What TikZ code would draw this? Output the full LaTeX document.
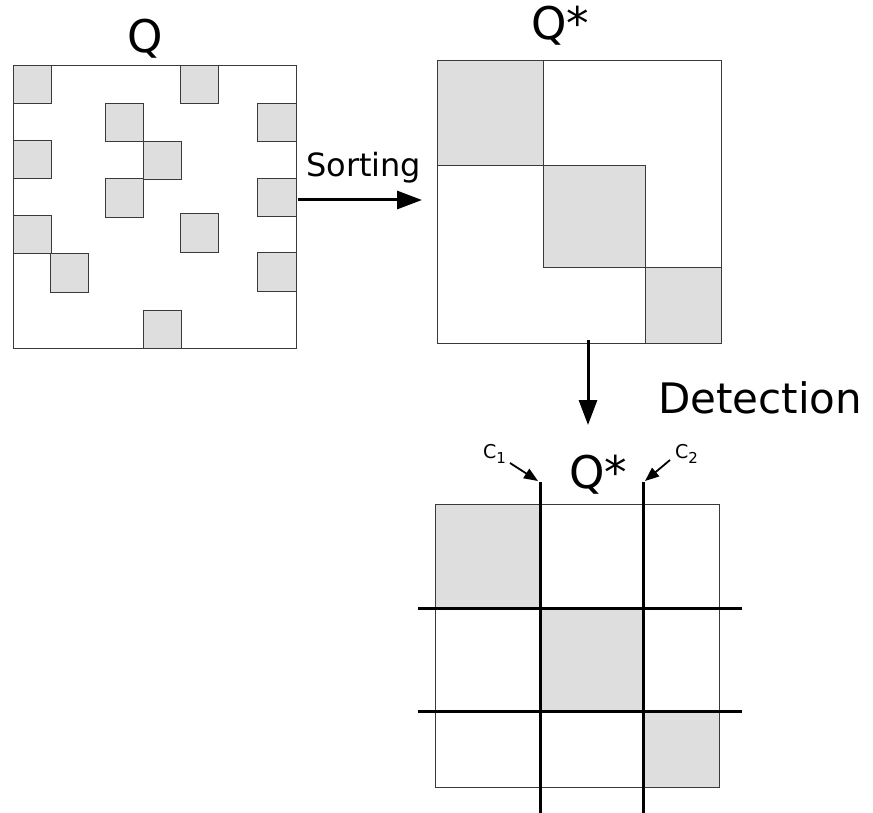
\documentclass[tikz,border=0pt]{standalone}
\usepackage{fontspec}
\setmainfont{DejaVu Sans}
\usetikzlibrary{arrows.meta}
\definecolor{cellgray}{HTML}{DEDEDE}
\definecolor{edgegray}{HTML}{3A3A3A}
\begin{document}
\begin{tikzpicture}[x=1pt,y=-1pt,
  cell/.style={fill=cellgray,draw=edgegray,line width=0.9pt},
  frame/.style={draw=edgegray,line width=0.9pt},
  cut/.style={draw=black,line width=3pt},
  bigarrow/.style={line width=3pt,-{Triangle[length=25pt,width=18pt]}},
  smallarrow/.style={line width=1.8pt,-{Triangle[length=14pt,width=11pt]}},
  biglabel/.style={font=\fontsize{45}{50}\selectfont,inner sep=0pt,anchor=base},
]
\useasboundingbox (0,0) rectangle (873,813);

% ---- left matrix Q ----
\foreach \a/\b/\c/\d in {13/65/51/103, 180/65/218/103, 105/103/143/141, 257/103/296/141,
  13/140/51/178, 143/141/181/179, 105/178/143/217, 257/178/296/216,
  180/213/218/252, 13/215/51/253, 50/253/88/292, 257/252/296/291, 143/310/181/348}
  \draw[cell] (\a,\b) rectangle (\c,\d);
\draw[frame] (13,65) rectangle (296,348);
\node[biglabel] (qlab) at (145,53) {Q};

% ---- top right matrix Q* ----
\draw[cell] (437,60) rectangle (543,165);
\draw[cell] (543,165) rectangle (645,267);
\draw[cell] (645,267) rectangle (721,343);
\draw[frame] (437,60) rectangle (721,343);
\node[biglabel] (qs1) at (560,40) {Q*};

% ---- sorting arrow ----
\coordinate (sortS) at (298,200);
\coordinate (sortE) at (422,200);
\draw[bigarrow] (sortS) -- (sortE);
\node[font=\fontsize{32}{36}\selectfont,inner sep=0pt,anchor=base west] (sort) at (306,177) {Sorting};

% ---- detection arrow ----
\coordinate (detS) at (588,340);
\coordinate (detE) at (588,425);
\draw[bigarrow] (detS) -- (detE);
\node[font=\fontsize{42}{48}\selectfont,inner sep=0pt,anchor=base west] (det) at (658,413) {Detection};

% ---- bottom matrix ----
\draw[cell] (435,504) rectangle (540,608);
\draw[cell] (540,608) rectangle (643,711);
\draw[cell] (643,711) rectangle (719,787);
\draw[frame] (435,504) rectangle (719,787);
\coordinate (v1t) at (540,482); \coordinate (v1b) at (540,813);
\coordinate (v2t) at (643,482); \coordinate (v2b) at (643,813);
\coordinate (h1l) at (418,608); \coordinate (h1r) at (742,608);
\coordinate (h2l) at (418,711); \coordinate (h2r) at (742,711);
\draw[cut] (v1t) -- (v1b);
\draw[cut] (v2t) -- (v2b);
\draw[cut] (h1l) -- (h1r);
\draw[cut] (h2l) -- (h2r);
\node[biglabel] (qs2) at (598,488) {Q*};

% ---- cut labels ----
\node[anchor=base west,inner sep=0pt,font=\fontsize{19}{22}\selectfont] (c1) at (483,458) {C\raisebox{-5pt}{\fontsize{15}{15}\selectfont 1}};
\node[anchor=base west,inner sep=0pt,font=\fontsize{19}{22}\selectfont] (c2) at (675,458) {C\raisebox{-5pt}{\fontsize{15}{15}\selectfont 2}};
\coordinate (c1s) at (510,463); \coordinate (c1e) at (538,481);
\coordinate (c2s) at (670,460); \coordinate (c2e) at (645,481);
\draw[smallarrow] (c1s) -- (c1e);
\draw[smallarrow] (c2s) -- (c2e);
\end{tikzpicture}
\end{document}
